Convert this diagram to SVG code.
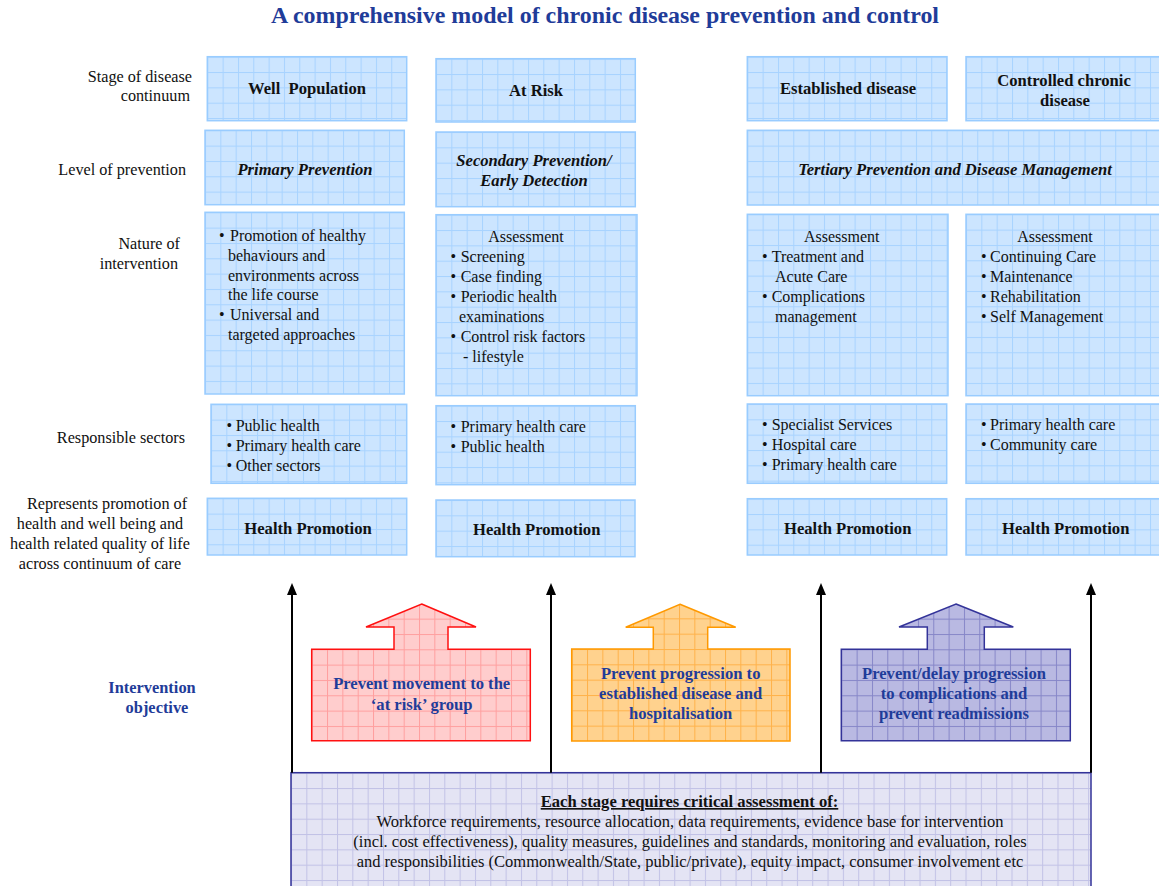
<svg xmlns="http://www.w3.org/2000/svg" width="1159" height="886" viewBox="0 0 1159 886">
  <style>
    text { font-family: "Liberation Serif", "Times New Roman", serif; font-size: 16px; fill: #111; }
    .title { font-size: 23px; font-weight: bold; fill: #1F3C99; text-anchor: middle; }
    .lbl { text-anchor: end; font-size: 16.2px; }
    .lblm { text-anchor: middle; font-size: 16.2px; }
    .obj { font-weight: bold; font-size: 16.4px; fill: #1F3C99; text-anchor: middle; }
    .hd { font-weight: bold; font-size: 16.6px; text-anchor: middle; }
    .it { font-weight: bold; font-style: italic; font-size: 16.6px; text-anchor: middle; }
    .c { text-anchor: middle; }
    .base { text-anchor: middle; font-size: 16.5px; }
    .arrtxt { font-weight: bold; font-size: 16.6px; fill: #1F3C99; text-anchor: middle; }
    .bx { fill: url(#gridBlue); stroke: #99CCFF; stroke-width: 1.5; }
    .vline { stroke: #000; stroke-width: 2; fill: none; }
    .ahead { fill: #000; }
  </style>
  <defs>
    <pattern id="gridBlue" patternUnits="userSpaceOnUse" width="15.33" height="15.33">
      <rect width="15.33" height="15.33" fill="#CCE5FF"/>
      <rect width="1" height="15.33" fill="#A8D3FF"/>
      <rect width="15.33" height="1" fill="#A8D3FF"/>
    </pattern>
    <pattern id="gridRed" patternUnits="userSpaceOnUse" x="311.7" y="649.3" width="15.33" height="15.33">
      <rect width="15.33" height="15.33" fill="#FFCDCD"/>
      <rect width="1" height="15.33" fill="#FF9F9F"/>
      <rect width="15.33" height="1" fill="#FF9F9F"/>
    </pattern>
    <pattern id="gridOrange" patternUnits="userSpaceOnUse" x="571.7" y="649" width="15.33" height="15.33">
      <rect width="15.33" height="15.33" fill="#FFD28E"/>
      <rect width="1" height="15.33" fill="#FFB24A"/>
      <rect width="15.33" height="1" fill="#FFB24A"/>
    </pattern>
    <pattern id="gridPurple" patternUnits="userSpaceOnUse" x="841.3" y="649.3" width="15.33" height="15.33">
      <rect width="15.33" height="15.33" fill="#B9B9E2"/>
      <rect width="1" height="15.33" fill="#8686C8"/>
      <rect width="15.33" height="1" fill="#8686C8"/>
    </pattern>
    <pattern id="gridLavender" patternUnits="userSpaceOnUse" x="291" y="772.7" width="15.33" height="15.33">
      <rect width="15.33" height="15.33" fill="#E4E4F4"/>
      <rect width="1" height="15.33" fill="#C2C2E6"/>
      <rect width="15.33" height="1" fill="#C2C2E6"/>
    </pattern>
  </defs>

  <rect width="1159" height="886" fill="#fff"/>

  <text class="title" x="605" y="23" textLength="668" lengthAdjust="spacingAndGlyphs">A comprehensive model of chronic disease prevention and control</text>

  <!-- row labels -->
  <g id="row-labels">
    <text class="lbl" x="192" y="82">Stage of disease</text>
    <text class="lbl" x="190" y="101">continuum</text>
    <text class="lbl" x="186" y="175">Level of prevention</text>
    <text class="lbl" x="180" y="249">Nature of</text>
    <text class="lbl" x="178" y="269">intervention</text>
    <text class="lbl" x="185" y="443">Responsible sectors</text>
    <text class="lblm" x="107" y="509">Represents promotion of</text>
    <text class="lblm" x="100" y="529">health and well being and</text>
    <text class="lblm" x="100" y="549">health related quality of life</text>
    <text class="lblm" x="100" y="569">across continuum of care</text>
    <text class="obj" x="152" y="693">Intervention</text>
    <text class="obj" x="157" y="713">objective</text>
  </g>

  <!-- stage of disease continuum -->
  <g id="well-population">
    <rect class="bx" transform="translate(207.3,56.7)" width="199.4" height="64"/>
    <text class="hd" x="307" y="94" xml:space="preserve">Well  Population</text>
  </g>
  <g id="at-risk">
    <rect class="bx" transform="translate(436,58.7)" width="199.3" height="63.3"/>
    <text class="hd" x="536" y="96">At Risk</text>
  </g>
  <g id="established-disease">
    <rect class="bx" transform="translate(747.3,56.7)" width="199.7" height="64"/>
    <text class="hd" x="848" y="94">Established disease</text>
  </g>
  <g id="controlled-chronic-disease">
    <rect class="bx" transform="translate(966,56.7)" width="200" height="64"/>
    <text class="hd" x="1064" y="86">Controlled chronic</text>
    <text class="hd" x="1065" y="106">disease</text>
  </g>

  <!-- level of prevention -->
  <g id="primary-prevention">
    <rect class="bx" transform="translate(205,130.3)" width="199.3" height="74.4"/>
    <text class="it" x="305" y="175">Primary Prevention</text>
  </g>
  <g id="secondary-prevention">
    <rect class="bx" transform="translate(436,132)" width="199.3" height="74.7"/>
    <text class="it" x="534" y="166">Secondary Prevention/</text>
    <text class="it" x="534" y="186">Early Detection</text>
  </g>
  <g id="tertiary-prevention">
    <rect class="bx" transform="translate(747.3,130.3)" width="420" height="74.7"/>
    <text class="it" x="955" y="175">Tertiary Prevention and Disease Management</text>
  </g>

  <!-- nature of intervention -->
  <g id="nature-well">
    <rect class="bx" transform="translate(205,212.3)" width="199.3" height="181.7"/>
    <text x="219" y="241">•</text><text x="230" y="241">Promotion of healthy</text>
    <text x="228" y="261">behaviours and</text>
    <text x="228" y="281">environments across</text>
    <text x="228" y="300">the life course</text>
    <text x="219" y="320">•</text><text x="230" y="320">Universal and</text>
    <text x="228" y="340">targeted approaches</text>
  </g>
  <g id="nature-at-risk">
    <rect class="bx" transform="translate(436,214.7)" width="201" height="181"/>
    <text class="c" x="526" y="242">Assessment</text>
    <text x="450.5" y="262">•</text><text x="460.7" y="262">Screening</text>
    <text x="450.5" y="282">•</text><text x="460.7" y="282">Case finding</text>
    <text x="450.5" y="302">•</text><text x="460.7" y="302">Periodic health</text>
    <text x="459" y="322">examinations</text>
    <text x="450.5" y="342">•</text><text x="460.7" y="342">Control risk factors</text>
    <text x="463" y="362">- lifestyle</text>
  </g>
  <g id="nature-established">
    <rect class="bx" transform="translate(747.3,214.3)" width="200.7" height="181.4"/>
    <text class="c" x="841.7" y="242">Assessment</text>
    <text x="762" y="262">•</text><text x="771.7" y="262">Treatment and</text>
    <text x="775" y="282">Acute Care</text>
    <text x="762" y="302">•</text><text x="771.7" y="302">Complications</text>
    <text x="775" y="322">management</text>
  </g>
  <g id="nature-controlled">
    <rect class="bx" transform="translate(966,214.3)" width="200" height="181.4"/>
    <text class="c" x="1055" y="242">Assessment</text>
    <text x="981" y="262">•</text><text x="990" y="262">Continuing Care</text>
    <text x="981" y="282">•</text><text x="990" y="282">Maintenance</text>
    <text x="981" y="302">•</text><text x="990" y="302">Rehabilitation</text>
    <text x="981" y="322">•</text><text x="990" y="322">Self Management</text>
  </g>

  <!-- responsible sectors -->
  <g id="sectors-well">
    <rect class="bx" transform="translate(211,404.3)" width="195.7" height="79"/>
    <text x="226.5" y="431">•</text><text x="235.7" y="431">Public health</text>
    <text x="226.5" y="451">•</text><text x="235.7" y="451">Primary health care</text>
    <text x="226.5" y="471">•</text><text x="235.7" y="471">Other sectors</text>
  </g>
  <g id="sectors-at-risk">
    <rect class="bx" transform="translate(436,405.7)" width="199.3" height="79"/>
    <text x="450.5" y="432">•</text><text x="460.7" y="432">Primary health care</text>
    <text x="450.5" y="452">•</text><text x="460.7" y="452">Public health</text>
  </g>
  <g id="sectors-established">
    <rect class="bx" transform="translate(747.3,404)" width="199.4" height="79.3"/>
    <text x="762" y="430">•</text><text x="771.7" y="430">Specialist Services</text>
    <text x="762" y="450">•</text><text x="771.7" y="450">Hospital care</text>
    <text x="762" y="470">•</text><text x="771.7" y="470">Primary health care</text>
  </g>
  <g id="sectors-controlled">
    <rect class="bx" transform="translate(966,404)" width="200" height="79.3"/>
    <text x="981" y="430">•</text><text x="990" y="430">Primary health care</text>
    <text x="981" y="450">•</text><text x="990" y="450">Community care</text>
  </g>

  <!-- health promotion -->
  <g id="health-promotion-1">
    <rect class="bx" transform="translate(207.3,498.3)" width="199.4" height="56.7"/>
    <text class="hd" x="308" y="534">Health Promotion</text>
  </g>
  <g id="health-promotion-2">
    <rect class="bx" transform="translate(436,500)" width="199" height="56.7"/>
    <text class="hd" x="536.7" y="535">Health Promotion</text>
  </g>
  <g id="health-promotion-3">
    <rect class="bx" transform="translate(747.3,498.7)" width="199.4" height="56.3"/>
    <text class="hd" x="847.7" y="534">Health Promotion</text>
  </g>
  <g id="health-promotion-4">
    <rect class="bx" transform="translate(966,498.7)" width="200" height="56.3"/>
    <text class="hd" x="1065.7" y="534">Health Promotion</text>
  </g>

  <!-- critical assessment base -->
  <g id="critical-assessment">
    <rect x="291" y="772.7" width="800" height="120" fill="url(#gridLavender)" stroke="#333399" stroke-width="1.5"/>
    <text class="hd" x="689.5" y="807" text-decoration="underline">Each stage requires critical assessment of:</text>
    <text class="base" x="690" y="827">Workforce requirements, resource allocation, data requirements, evidence base for intervention</text>
    <text class="base" x="690" y="847">(incl. cost effectiveness), quality measures, guidelines and standards, monitoring and evaluation, roles</text>
    <text class="base" x="690" y="867">and responsibilities (Commonwealth/State, public/private), equity impact, consumer involvement etc</text>
  </g>

  <!-- connectors: upward arrows from the assessment base -->
  <g id="connectors">
    <line class="vline" x1="292" y1="772.7" x2="292" y2="592"/>
    <polygon class="ahead" points="292,583 297,595 287,595"/>
    <line class="vline" x1="551" y1="772.7" x2="551" y2="592"/>
    <polygon class="ahead" points="551,583 556,595 546,595"/>
    <line class="vline" x1="821" y1="772.7" x2="821" y2="592"/>
    <polygon class="ahead" points="821,583 826,595 816,595"/>
    <line class="vline" x1="1091" y1="772.7" x2="1091" y2="592"/>
    <polygon class="ahead" points="1091,583 1096,595 1086,595"/>
  </g>

  <!-- intervention objectives -->
  <g id="objective-at-risk">
    <polygon points="421.7,604 476,627 448,627 448,649.3 530.3,649.3 530.3,740.7 311.7,740.7 311.7,649.3 394,649.3 394,627 366,627" fill="url(#gridRed)" stroke="#FF1010" stroke-width="1.5"/>
    <text class="arrtxt" x="421.7" y="689">Prevent movement to the</text>
    <text class="arrtxt" x="421.7" y="710">‘at risk’ group</text>
  </g>
  <g id="objective-progression">
    <polygon points="680,604.3 735.7,627.3 707.7,627.3 707.7,649 790,649 790,741 571.7,741 571.7,649 653.3,649 653.3,627.3 625.7,627.3" fill="url(#gridOrange)" stroke="#FF9900" stroke-width="1.5"/>
    <text class="arrtxt" x="680.7" y="679">Prevent progression to</text>
    <text class="arrtxt" x="680.7" y="699">established disease and</text>
    <text class="arrtxt" x="680.7" y="719">hospitalisation</text>
  </g>
  <g id="objective-complications">
    <polygon points="956,604 1013.3,627 984.3,627 984.3,649.3 1070.3,649.3 1070.3,740.7 841.3,740.7 841.3,649.3 927.3,649.3 927.3,627 899,627" fill="url(#gridPurple)" stroke="#333399" stroke-width="1.5"/>
    <text class="arrtxt" x="954" y="679">Prevent/delay progression</text>
    <text class="arrtxt" x="954" y="699">to complications and</text>
    <text class="arrtxt" x="954" y="719">prevent readmissions</text>
  </g>
</svg>
